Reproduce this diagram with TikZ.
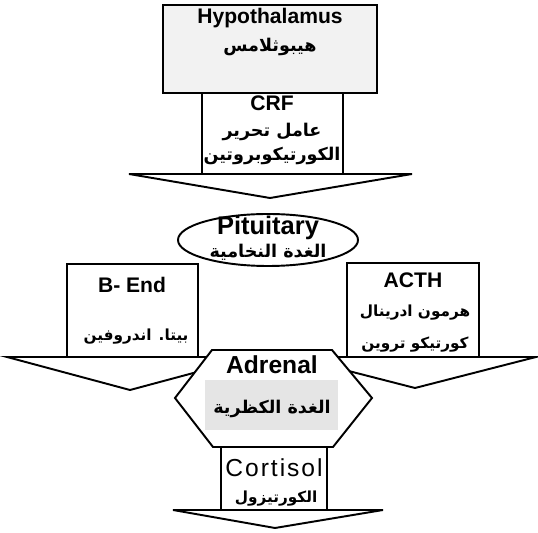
\documentclass[tikz,border=0pt]{standalone}
\usepackage{fontspec}
\setmainfont{Liberation Sans}
\newfontfamily\arabicfont[Script=Arabic]{DejaVu Sans}
\TeXXeTstate=1
\newcommand{\artxt}[1]{{\arabicfont\bfseries\beginR #1\endR}}
\tikzset{
  shape box/.style={draw, line width=1.1pt, fill=white},
  latin/.style={font=\fontsize{12}{14}\selectfont\bfseries},
  arab/.style={font=\fontsize{10}{12}\selectfont, inner sep=0pt},
  arab small/.style={arab, font=\fontsize{8.7}{10}\selectfont},
}
\begin{document}
\begin{tikzpicture}[x=0.02cm, y=-0.02cm]
    \useasboundingbox (0,0) rectangle (538,533);

    % Hypothalamus with CRF arrow
    \draw[shape box] (129,174) -- (270,198) -- (412,174) -- cycle;
    \draw[shape box] (202,93) rectangle (343,174);
    \draw[shape box, fill=gray!10] (163,5) rectangle (377,93);
    \node[latin] (hypo) at (270,18) {Hypothalamus};
    \node[arab] (hypoar) at (270,47) {\artxt{هيبوثلامس}};
    \node[latin] (crf) at (272,103) {CRF};
    \node[arab] (crfar1) at (272,132) {\artxt{عامل تحرير}};
    \node[arab] (crfar2) at (272,156) {\artxt{الكورتيكوبروتين}};

    % Pituitary
    \draw[line width=1.1pt] (268,240) ellipse [x radius=90, y radius=26];
    \node[latin, font=\fontsize{14.5}{16}\selectfont\bfseries] (pit) at (268,228) {Pituitary};
    \node[arab] (pitar) at (268,252) {\artxt{الغدة النخامية}};

    % B-End arrow (left)
    \draw[shape box] (7,357) -- (130,390) -- (253,357) -- cycle;
    \draw[shape box] (67,264) rectangle (198,357);
    \node[latin] (bend) at (132,285) {B- End};
    \node[arab small] (bendar) at (136,337) {\artxt{بيتا. اندروفين}};

    % ACTH arrow (right)
    \draw[shape box] (294,357) -- (415,388) -- (536,357) -- cycle;
    \draw[shape box] (347,263) rectangle (479,357);
    \node[latin] (acth) at (413,280) {ACTH};
    \node[arab small] (acthar1) at (415,313) {\artxt{هرمون ادرينال}};
    \node[arab small] (acthar2) at (415,345) {\artxt{كورتيكو تروين}};

    % Cortisol arrow
    \draw[shape box] (173,510) -- (275,528) -- (383,510) -- cycle;
    \draw[shape box] (221,447) rectangle (327,510);
    \node[font=\fontsize{14}{16}\selectfont\addfontfeature{LetterSpace=8}] (cort) at (274,468) {Cortisol};
    \node[arab small] (cortar) at (276,499) {\artxt{الكورتيزول}};

    % Adrenal
    \draw[shape box] (212,350) -- (332,350) -- (372,398) -- (333,447)
        -- (213,447) -- (175,398) -- cycle;
    \fill[gray!20] (205,380) rectangle (338,430);
    \node[latin, font=\fontsize{14}{16}\selectfont\bfseries] (adrenal) at (272,365) {Adrenal};
    \node[arab] (adrenalar) at (272,409) {\artxt{الغدة الكظرية}};
\end{tikzpicture}
\end{document}
